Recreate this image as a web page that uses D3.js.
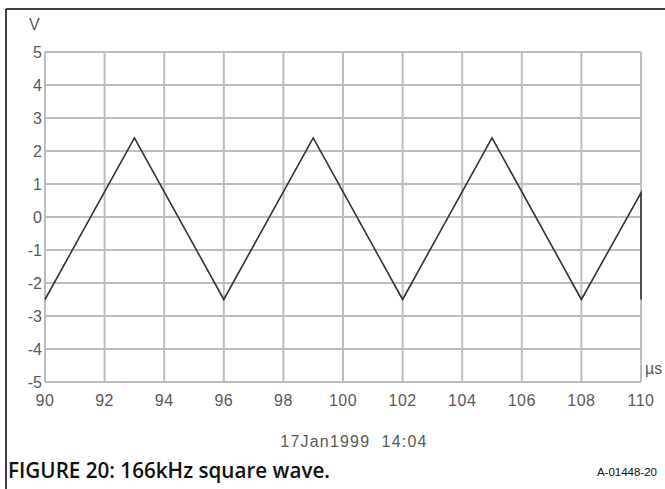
<!DOCTYPE html>
<html>
<head>
<meta charset="utf-8">
<script src="https://cdn.jsdelivr.net/npm/d3@7"></script>
<style>
  body { margin: 0; background: #fff; }
  svg { display: block; }
</style>
</head>
<body>
<svg id="chart" width="665" height="489"></svg>
<script>
// waveform vertices (time in µs, volts)
const timeUs = [90, 93, 96, 99, 102, 105, 108, 110, 110];
const volts = [-2.5, 2.4, -2.5, 2.4, -2.5, 2.4, -2.5, 0.73, -2.5];

const xTicks = [90, 92, 94, 96, 98, 100, 102, 104, 106, 108, 110];
const yTicks = [5, 4, 3, 2, 1, 0, -1, -2, -3, -4, -5];

const svg = d3.select("#chart");

// frame (left and top only, picture is cropped)
svg.append("line").attr("x1", 6).attr("y1", 9).attr("x2", 665).attr("y2", 9)
	.attr("stroke", "#000").attr("stroke-width", 1.5);
svg.append("line").attr("x1", 6).attr("y1", 9).attr("x2", 6).attr("y2", 489)
	.attr("stroke", "#000").attr("stroke-width", 1.5);

const x = d3.scaleLinear().domain([90, 110]).range([45, 641]);
const y = d3.scaleLinear().domain([-5, 5]).range([382, 52]);

// grid
const grid = svg.append("g").attr("stroke", "#bdbdbd").attr("stroke-width", 2);
grid.selectAll(".vx").data(xTicks).enter().append("line")
	.attr("x1", (d) => x(d)).attr("x2", (d) => x(d))
	.attr("y1", y(5)).attr("y2", y(-5));
grid.selectAll(".hy").data(yTicks).enter().append("line")
	.attr("x1", x(90)).attr("x2", x(110))
	.attr("y1", (d) => y(d)).attr("y2", (d) => y(d));

// axes labels
const font = "Liberation Sans, Arial, sans-serif";
const labelColor = "#595959";

svg.append("g").selectAll("text").data(yTicks).enter().append("text")
	.attr("x", 42).attr("y", (d) => y(d) + 6)
	.attr("text-anchor", "end")
	.attr("font-family", font).attr("font-size", 16).attr("fill", labelColor)
	.text((d) => d);

svg.append("g").selectAll("text").data(xTicks).enter().append("text")
	.attr("x", (d) => x(d)).attr("y", 406)
	.attr("text-anchor", "middle")
	.attr("font-family", font).attr("font-size", 16).attr("letter-spacing", 0.5)
	.attr("fill", labelColor)
	.text((d) => d);

svg.append("text").attr("x", 29).attr("y", 30)
	.attr("font-family", font).attr("font-size", 16).attr("fill", labelColor)
	.text("V");
svg.append("text").attr("x", 645).attr("y", 374)
	.attr("font-family", font).attr("font-size", 16).attr("fill", labelColor)
	.text("µs");

// waveform
const line = d3.line().x((d) => x(d[0])).y((d) => y(d[1]));
svg.append("path")
	.datum(timeUs.map((t, i) => [t, volts[i]]))
	.attr("d", line)
	.attr("fill", "none")
	.attr("stroke", "#333")
	.attr("stroke-width", 1.6);

svg.append("text").attr("x", 354).attr("y", 447)
	.attr("text-anchor", "middle")
	.attr("font-family", font).attr("font-size", 16).attr("letter-spacing", 1.2)
	.attr("fill", labelColor)
	.attr("xml:space", "preserve")
	.text("17Jan1999  14:04");

svg.append("text").attr("x", 8).attr("y", 478)
	.attr("font-family", "Open Sans, sans-serif").attr("font-size", 21)
	.attr("font-weight", 600).attr("fill", "#111")
	.attr("textLength", 322).attr("lengthAdjust", "spacingAndGlyphs")
	.text("FIGURE 20: 166kHz square wave.");

svg.append("text").attr("x", 657).attr("y", 476)
	.attr("text-anchor", "end")
	.attr("font-family", font).attr("font-size", 11.5).attr("fill", "#111")
	.text("A-01448-20");
</script>
</body>
</html>
